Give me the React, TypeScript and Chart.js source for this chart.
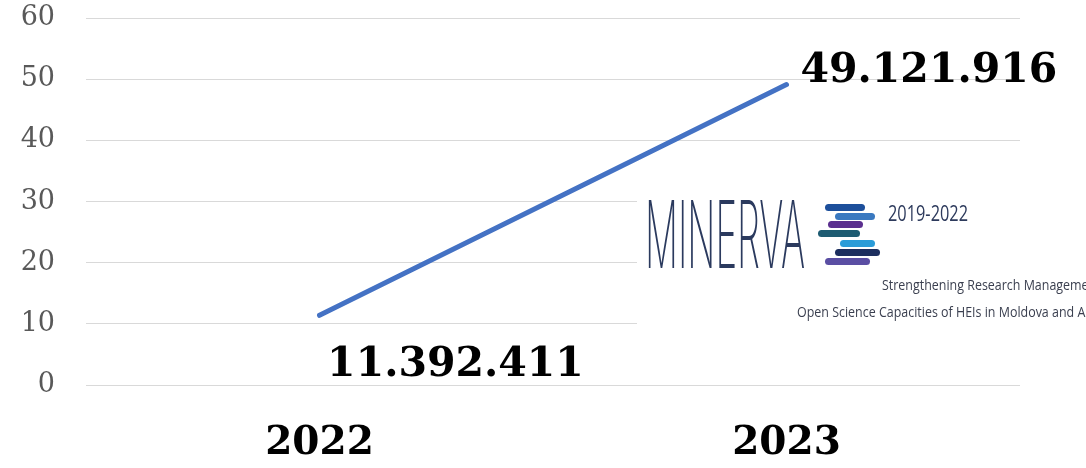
import React, { useEffect, useRef } from "react";
import { Chart, registerables } from "chart.js";

Chart.register(...registerables);

const categories = ["2022", "2023"];
const values = [11.392411, 49.121916];
const valueLabels = ["11.392.411", "49.121.916"];
const yMin = 0;
const yMax = 60;
const yStep = 10;

const logoBars = [
  { x: 825, y: 204, w: 40, c: "#1d4f9b" },
  { x: 835, y: 213, w: 40, c: "#3a79c0" },
  { x: 828, y: 221, w: 35, c: "#5b2f8f" },
  { x: 818, y: 230, w: 42, c: "#1e5c72" },
  { x: 840, y: 240, w: 35, c: "#2b9cd8" },
  { x: 835, y: 249, w: 45, c: "#1c2e5e" },
  { x: 825, y: 258, w: 45, c: "#5a4ea3" },
];

const overlayPlugin = {
  id: "overlay",
  afterDraw(chart: any) {
    const ctx = chart.ctx as CanvasRenderingContext2D;
    ctx.save();
    // logo background
    ctx.fillStyle = "#ffffff";
    ctx.fillRect(637, 195, 449, 135);
    // MINERVA word
    ctx.fillStyle = "#2b3a5e";
    ctx.textBaseline = "alphabetic";
    ctx.textAlign = "left";
    ctx.font = "200 94px Inter, 'Noto Sans', sans-serif";
    const mw = ctx.measureText("MINERVA").width;
    ctx.save();
    ctx.translate(645, 268);
    ctx.scale(160 / mw, 1);
    ctx.fillText("MINERVA", 0, 0);
    ctx.restore();
    // bars
    logoBars.forEach((b) => {
      ctx.fillStyle = b.c;
      ctx.beginPath();
      (ctx as any).roundRect(b.x, b.y, b.w, 7, 3.5);
      ctx.fill();
    });
    // 2019-2022
    ctx.fillStyle = "#2d3a5c";
    ctx.font = "21px 'Open Sans', sans-serif";
    const yw = ctx.measureText("2019-2022").width;
    ctx.save();
    ctx.translate(888, 221);
    ctx.scale(80 / yw, 1);
    ctx.fillText("2019-2022", 0, 0);
    ctx.restore();
    // subtitle lines
    ctx.fillStyle = "#3a3f4f";
    ctx.font = "15px 'Open Sans', sans-serif";
    ctx.save();
    ctx.translate(882, 290);
    ctx.scale(0.83, 1);
    ctx.fillText("Strengthening Research Management and", 0, 0);
    ctx.restore();
    ctx.save();
    ctx.translate(797, 317);
    ctx.scale(0.83, 1);
    ctx.fillText("Open Science Capacities of HEIs in Moldova and Armenia", 0, 0);
    ctx.restore();

    // data labels
    const meta = chart.getDatasetMeta(0);
    ctx.fillStyle = "#000000";
    ctx.font = "bold 41px 'DejaVu Serif', serif";
    ctx.textBaseline = "middle";
    const p0 = meta.data[0];
    ctx.textAlign = "center";
    ctx.fillText(valueLabels[0], p0.x + 136, p0.y + 50);
    const p1 = meta.data[1];
    ctx.textAlign = "left";
    ctx.fillText(valueLabels[1], p1.x + 14, p1.y - 13);
    ctx.restore();
  },
};

export default function App() {
  const ref = useRef<HTMLCanvasElement>(null);
  useEffect(() => {
    if (!ref.current) return;
    const chart = new Chart(ref.current, {
      type: "line",
      data: {
        labels: categories,
        datasets: [
          {
            data: values,
            borderColor: "#4472C4",
            borderWidth: 5,
            pointRadius: 0,
            borderCapStyle: "round",
            fill: false,
            tension: 0,
          },
        ],
      },
      options: {
        animation: false,
        responsive: false,
        maintainAspectRatio: false,
        layout: { padding: { top: 18, right: 66, left: 0, bottom: 0 } },
        plugins: { legend: { display: false }, tooltip: { enabled: false } },
        scales: {
          x: {
            offset: true,
            grid: { display: false, drawTicks: false },
            border: { display: false },
            ticks: {
              color: "#000000",
              font: { family: "'DejaVu Serif', serif", size: 39, weight: "bold" },
              padding: 35,
            },
            afterFit: (s: any) => {
              s.height = 83;
              s.paddingLeft = 0;
              s.paddingRight = 0;
            },
          },
          y: {
            min: yMin,
            max: yMax,
            grid: { color: "#d9d9d9", lineWidth: 1, drawTicks: false },
            border: { display: false },
            ticks: {
              stepSize: yStep,
              color: "#595959",
              font: { family: "'DejaVu Serif', serif", size: 27 },
              padding: 31,
            },
            afterFit: (s: any) => {
              s.width = 86;
              s.paddingTop = 0;
              s.paddingBottom = 0;
            },
          },
        },
      },
      plugins: [overlayPlugin],
    });
    return () => chart.destroy();
  }, []);
  return (
    <div style={{ position: "fixed", left: 0, top: 0, width: 1086, height: 468, background: "#fff" }}>
      <canvas ref={ref} width={1086} height={468} style={{ display: "block" }} />
    </div>
  );
}
